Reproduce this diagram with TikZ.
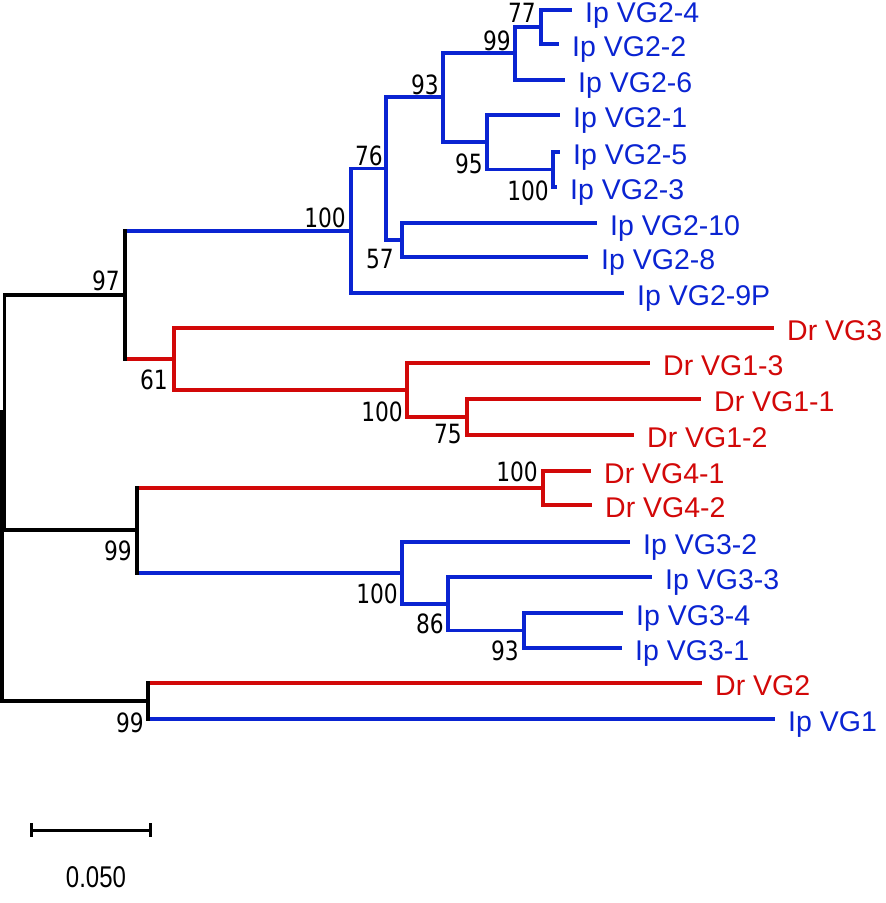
\documentclass[tikz,border=0pt]{standalone}
\usepackage{fontspec}
\setmainfont{Liberation Sans}
\newfontfamily\numfont[FakeStretch=0.82]{DejaVu Sans}
\newfontfamily\barfont[FakeStretch=0.8]{Liberation Sans}
\definecolor{treeblue}{RGB}{10,36,210}
\definecolor{treered}{RGB}{210,8,8}
\tikzset{
  hbr/.style={line width=3.3pt, line cap=butt},
  vbr/.style={line width=3.3pt, line cap=rect},
  leaflab/.style={inner sep=0pt, anchor=base west, font=\fontsize{28.5}{30}\selectfont},
  bslab/.style={inner sep=0pt, anchor=base east, font=\numfont\fontsize{26.5}{28}\selectfont, text=black},
}
\newcommand{\hbranch}[3]{\draw[hbr,#1] (#2 |- #3) -- (#3);}
\newcommand{\vclade}[4]{\draw[vbr,#1] (#2 |- #3) -- (#2 |- #4);}
\begin{document}
\begin{tikzpicture}[x=1pt,y=-1pt]
\useasboundingbox (0,0) rectangle (886,903);
% leaves
\coordinate (L1) at (572,10);
\coordinate (L2) at (559,44);
\coordinate (L3) at (565,80);
\coordinate (L4) at (560,115);
\coordinate (L5) at (560,152);
\coordinate (L6) at (557,187);
\coordinate (L7) at (597,223);
\coordinate (L8) at (588,257);
\coordinate (L9) at (624,293);
\coordinate (L10) at (774,328);
\coordinate (L11) at (650,363);
\coordinate (L12) at (701,399);
\coordinate (L13) at (634,435);
\coordinate (L14) at (591,471);
\coordinate (L15) at (592,505);
\coordinate (L16) at (630,542);
\coordinate (L17) at (652,577);
\coordinate (L18) at (623,613);
\coordinate (L19) at (622,648);
\coordinate (L20) at (702,683);
\coordinate (L21) at (775,719);
% internal nodes
\coordinate (nA) at (541,27);
\coordinate (nB) at (515,53);
\coordinate (nC) at (553,169.5);
\coordinate (nD) at (487,142);
\coordinate (nE) at (443,97);
\coordinate (nF) at (402,240);
\coordinate (nG) at (386,168.5);
\coordinate (nH) at (351,231);
\coordinate (nI) at (467,417);
\coordinate (nJ) at (407,390);
\coordinate (nK) at (174,359);
\coordinate (nL) at (125,295);
\coordinate (nM) at (543,488);
\coordinate (nN) at (524,630.5);
\coordinate (nO) at (448,604);
\coordinate (nP) at (402,573);
\coordinate (nQ) at (137,530);
\coordinate (nR) at (4.5,412);
\coordinate (nS) at (148,701);
\coordinate (root) at (2,556);
% horizontal branches
\hbranch{treeblue}{nA}{L1}
\hbranch{treeblue}{nA}{L2}
\hbranch{treeblue}{nB}{nA}
\hbranch{treeblue}{nB}{L3}
\hbranch{treeblue}{nC}{L5}
\hbranch{treeblue}{nC}{L6}
\hbranch{treeblue}{nD}{L4}
\hbranch{treeblue}{nD}{nC}
\hbranch{treeblue}{nE}{nB}
\hbranch{treeblue}{nE}{nD}
\hbranch{treeblue}{nF}{L7}
\hbranch{treeblue}{nF}{L8}
\hbranch{treeblue}{nG}{nE}
\hbranch{treeblue}{nG}{nF}
\hbranch{treeblue}{nH}{nG}
\hbranch{treeblue}{nH}{L9}
\hbranch{treered}{nI}{L12}
\hbranch{treered}{nI}{L13}
\hbranch{treered}{nJ}{L11}
\hbranch{treered}{nJ}{nI}
\hbranch{treered}{nK}{L10}
\hbranch{treered}{nK}{nJ}
\hbranch{treeblue}{nL}{nH}
\hbranch{treered}{nL}{nK}
\hbranch{treered}{nM}{L14}
\hbranch{treered}{nM}{L15}
\hbranch{treeblue}{nN}{L18}
\hbranch{treeblue}{nN}{L19}
\hbranch{treeblue}{nO}{L17}
\hbranch{treeblue}{nO}{nN}
\hbranch{treeblue}{nP}{L16}
\hbranch{treeblue}{nP}{nO}
\hbranch{treered}{nQ}{nM}
\hbranch{treeblue}{nQ}{nP}
\hbranch{black}{nR}{nL}
\hbranch{black}{nR}{nQ}
\hbranch{treered}{nS}{L20}
\hbranch{treeblue}{nS}{L21}
\hbranch{black}{root}{nR}
\hbranch{black}{root}{nS}
% vertical clade lines
\vclade{treeblue}{nA}{L1}{L2}
\vclade{treeblue}{nB}{nA}{L3}
\vclade{treeblue}{nC}{L5}{L6}
\vclade{treeblue}{nD}{L4}{nC}
\vclade{treeblue}{nE}{nB}{nD}
\vclade{treeblue}{nF}{L7}{L8}
\vclade{treeblue}{nG}{nE}{nF}
\vclade{treeblue}{nH}{nG}{L9}
\vclade{treered}{nI}{L12}{L13}
\vclade{treered}{nJ}{L11}{nI}
\vclade{treered}{nK}{L10}{nJ}
\vclade{black}{nL}{nH}{nK}
\vclade{treered}{nM}{L14}{L15}
\vclade{treeblue}{nN}{L18}{L19}
\vclade{treeblue}{nO}{L17}{nN}
\vclade{treeblue}{nP}{L16}{nO}
\vclade{black}{nQ}{nM}{nP}
\vclade{black}{nR}{nL}{nQ}
\vclade{black}{nS}{L20}{L21}
\vclade{black}{root}{nR}{nS}
% leaf labels
\node[leaflab,text=treeblue] (t1) at ([shift={(13,12)}]L1) {Ip VG2-4};
\node[leaflab,text=treeblue] (t2) at ([shift={(13,12)}]L2) {Ip VG2-2};
\node[leaflab,text=treeblue] (t3) at ([shift={(13,12)}]L3) {Ip VG2-6};
\node[leaflab,text=treeblue] (t4) at ([shift={(13,12)}]L4) {Ip VG2-1};
\node[leaflab,text=treeblue] (t5) at ([shift={(13,12)}]L5) {Ip VG2-5};
\node[leaflab,text=treeblue] (t6) at ([shift={(13,12)}]L6) {Ip VG2-3};
\node[leaflab,text=treeblue] (t7) at ([shift={(13,12)}]L7) {Ip VG2-10};
\node[leaflab,text=treeblue] (t8) at ([shift={(13,12)}]L8) {Ip VG2-8};
\node[leaflab,text=treeblue] (t9) at ([shift={(13,12)}]L9) {Ip VG2-9P};
\node[leaflab,text=treered] (t10) at ([shift={(13,12)}]L10) {Dr VG3};
\node[leaflab,text=treered] (t11) at ([shift={(13,12)}]L11) {Dr VG1-3};
\node[leaflab,text=treered] (t12) at ([shift={(13,12)}]L12) {Dr VG1-1};
\node[leaflab,text=treered] (t13) at ([shift={(13,12)}]L13) {Dr VG1-2};
\node[leaflab,text=treered] (t14) at ([shift={(13,12)}]L14) {Dr VG4-1};
\node[leaflab,text=treered] (t15) at ([shift={(13,12)}]L15) {Dr VG4-2};
\node[leaflab,text=treeblue] (t16) at ([shift={(13,12)}]L16) {Ip VG3-2};
\node[leaflab,text=treeblue] (t17) at ([shift={(13,12)}]L17) {Ip VG3-3};
\node[leaflab,text=treeblue] (t18) at ([shift={(13,12)}]L18) {Ip VG3-4};
\node[leaflab,text=treeblue] (t19) at ([shift={(13,12)}]L19) {Ip VG3-1};
\node[leaflab,text=treered] (t20) at ([shift={(13,12)}]L20) {Dr VG2};
\node[leaflab,text=treeblue] (t21) at ([shift={(13,12)}]L21) {Ip VG1};
% bootstrap values
\node[bslab] (bA) at (536,22) {77};
\node[bslab] (bB) at (511,50) {99};
\node[bslab] (bE) at (439,94) {93};
\node[bslab] (bD) at (483,173) {95};
\node[bslab] (bC) at (549,200) {100};
\node[bslab] (bG) at (383,165) {76};
\node[bslab] (bF) at (394,268) {57};
\node[bslab] (bH) at (346,227) {100};
\node[bslab] (bL) at (120,290) {97};
\node[bslab] (bK) at (168,389) {61};
\node[bslab] (bJ) at (403,421) {100};
\node[bslab] (bI) at (462,443) {75};
\node[bslab] (bM) at (538,481) {100};
\node[bslab] (bQ) at (132,560) {99};
\node[bslab] (bP) at (398,603) {100};
\node[bslab] (bO) at (444,633) {86};
\node[bslab] (bN) at (519,660) {93};
\node[bslab] (bS) at (144,732) {99};
% scale bar
\coordinate (s1) at (31,830);
\coordinate (s2) at (150,830);
\coordinate (s1a) at (31,823);
\coordinate (s1b) at (31,837);
\coordinate (s2a) at (150,823);
\coordinate (s2b) at (150,837);
\draw[line width=3pt] (s1) -- (s2);
\draw[line width=3pt] (s1a) -- (s1b);
\draw[line width=3pt] (s2a) -- (s2b);
\node[inner sep=0pt, anchor=base, font=\barfont\fontsize{30}{32}\selectfont] (slab) at (96,887) {0.050};
\end{tikzpicture}
\end{document}
